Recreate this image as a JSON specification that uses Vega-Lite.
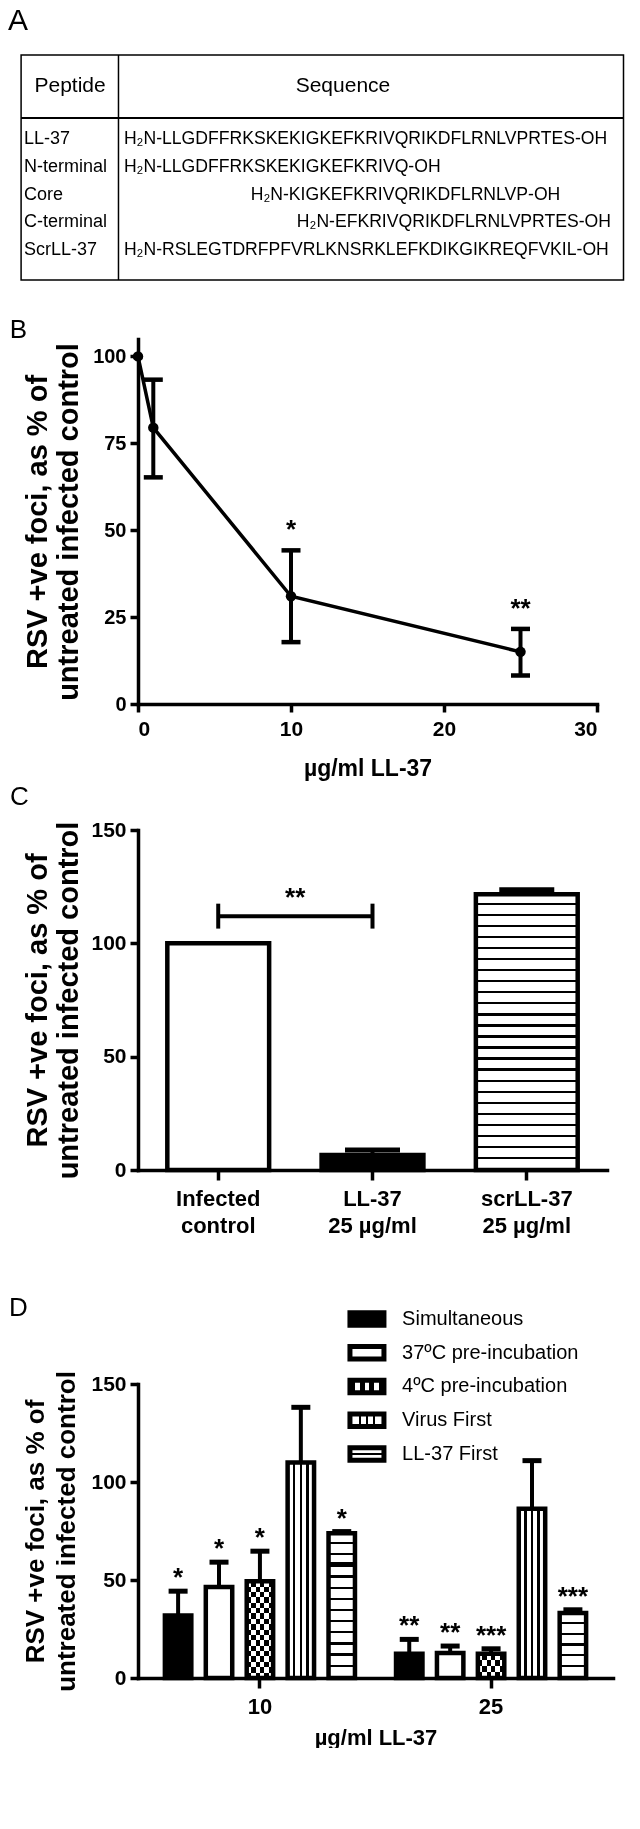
{
  "$schema": "https://vega.github.io/schema/vega-lite/v6.json",
  "background": "white",
  "padding": {"left": 8, "top": 6, "right": 0, "bottom": 0},
  "config": {
    "font": "Liberation Sans",
    "view": {"stroke": null},
    "axis": {"domainColor": "black", "domainWidth": 3.5, "domainCap": "square", "tickColor": "black", "tickWidth": 3.5, "tickSize": 8, "labelColor": "black", "labelFont": "Liberation Sans", "labelFontWeight": "bold", "labelFontSize": 21, "labelPadding": 4, "titleFont": "Liberation Sans", "titleFontWeight": "bold", "titleColor": "black", "grid": false},
    "title": {"font": "Liberation Sans", "fontWeight": "normal", "color": "black", "anchor": "start", "frame": "bounds"}
  },
  "columns": 1,
  "spacing": 58,
  "concat": [
    {
      "columns": 1,
      "spacing": 36,
      "concat": [
        {
          "title": {"text": "A", "fontSize": 30, "dx": -12, "offset": 18},
          "width": 485.5,
          "height": 225,
          "layer": [
            {
              "data": {"values": [
                {"row": 1, "peptide": "LL-37", "sequence": "H₂N-LLGDFFRKSKEKIGKEFKRIVQRIKDFLRNLVPRTES-OH", "start": 1},
                {"row": 2, "peptide": "N-terminal", "sequence": "H₂N-LLGDFFRKSKEKIGKEFKRIVQ-OH", "start": 1},
                {"row": 3, "peptide": "Core", "sequence": "H₂N-KIGKEFKRIVQRIKDFLRNLVP-OH", "start": 12},
                {"row": 4, "peptide": "C-terminal", "sequence": "H₂N-EFKRIVQRIKDFLRNLVPRTES-OH", "start": 16},
                {"row": 5, "peptide": "ScrLL-37", "sequence": "H₂N-RSLEGTDRFPFVRLKNSRKLEFKDIKGIKREQFVKIL-OH", "start": 1}
              ]},
              "layer": [
                {
                  "mark": {"type": "text", "align": "left", "baseline": "middle", "fontSize": 18, "color": "black"},
                  "encoding": {
                    "x": {"datum": -7.67, "type": "quantitative", "scale": {"domain": [2.223, 44.33], "nice": false, "zero": false}, "axis": null},
                    "y": {"field": "row", "type": "quantitative", "scale": {"domain": [-2.027, 6.081], "reverse": true, "nice": false, "zero": false}, "axis": null},
                    "text": {"field": "peptide"}
                  }
                },
                {
                  "mark": {"type": "text", "align": "left", "baseline": "middle", "fontSize": 17.6, "color": "black"},
                  "encoding": {
                    "x": {"field": "start", "type": "quantitative", "scale": {"domain": [2.223, 44.33], "nice": false, "zero": false}, "axis": null},
                    "y": {"field": "row", "type": "quantitative", "scale": {"domain": [-2.027, 6.081], "reverse": true, "nice": false, "zero": false}, "axis": null},
                    "text": {"field": "sequence"}
                  }
                }
              ]
            },
            {
              "data": {"values": [{"label": "Peptide"}]},
              "mark": {"type": "text", "align": "center", "baseline": "middle", "fontSize": 21, "color": "black"},
              "encoding": {
                "x": {"datum": -3.67, "type": "quantitative", "scale": {"domain": [2.223, 44.33], "nice": false, "zero": false}, "axis": null},
                "y": {"datum": -0.91, "type": "quantitative", "scale": {"domain": [-2.027, 6.081], "reverse": true, "nice": false, "zero": false}, "axis": null},
                "text": {"field": "label"}
              }
            },
            {
              "data": {"values": [{"label": "Sequence"}]},
              "mark": {"type": "text", "align": "center", "baseline": "middle", "fontSize": 21, "color": "black"},
              "encoding": {
                "x": {"datum": 20.0, "type": "quantitative", "scale": {"domain": [2.223, 44.33], "nice": false, "zero": false}, "axis": null},
                "y": {"datum": -0.91, "type": "quantitative", "scale": {"domain": [-2.027, 6.081], "reverse": true, "nice": false, "zero": false}, "axis": null},
                "text": {"field": "label"}
              }
            },
            {
              "data": {"values": [{"part": "border"}]},
              "mark": {"type": "rect", "filled": false, "stroke": "black", "strokeWidth": 1.5},
              "encoding": {
                "x": {"datum": -7.916, "type": "quantitative", "scale": {"domain": [2.223, 44.33], "nice": false, "zero": false}, "axis": null},
                "x2": {"datum": 44.33},
                "y": {"datum": -2.027, "type": "quantitative", "scale": {"domain": [-2.027, 6.081], "reverse": true, "nice": false, "zero": false}, "axis": null},
                "y2": {"datum": 6.081}
              }
            },
            {
              "data": {"values": [{"part": "header line"}]},
              "mark": {"type": "rule", "color": "black", "strokeWidth": 2},
              "encoding": {
                "x": {"datum": -7.916, "type": "quantitative", "scale": {"domain": [2.223, 44.33], "nice": false, "zero": false}, "axis": null},
                "x2": {"datum": 44.33},
                "y": {"datum": 0.243, "type": "quantitative", "scale": {"domain": [-2.027, 6.081], "reverse": true, "nice": false, "zero": false}, "axis": null}
              }
            },
            {
              "data": {"values": [{"part": "column line"}]},
              "mark": {"type": "rule", "color": "black", "strokeWidth": 1.5},
              "encoding": {
                "x": {"datum": 0.53, "type": "quantitative", "scale": {"domain": [2.223, 44.33], "nice": false, "zero": false}, "axis": null},
                "y": {"datum": -2.027, "type": "quantitative", "scale": {"domain": [-2.027, 6.081], "reverse": true, "nice": false, "zero": false}, "axis": null},
                "y2": {"datum": 6.081}
              }
            }
          ]
        },
        {
          "columns": 1,
          "spacing": 4,
          "concat": [
            {
              "title": {"text": "B", "fontSize": 26, "dx": -14, "offset": -4},
              "width": 459,
              "height": 365,
              "data": {"values": [
                {"dose": 0, "mean": 100},
                {"dose": 1, "mean": 79.5, "lower": 65.2, "upper": 93.3},
                {"dose": 10, "mean": 31, "lower": 17.8, "upper": 44.2, "sig": "*"},
                {"dose": 25, "mean": 15, "lower": 8.2, "upper": 21.6, "sig": "**"}
              ]},
              "encoding": {
                "x": {"field": "dose", "type": "quantitative", "scale": {"domain": [0, 30], "nice": false}, "axis": {"values": [0, 10, 20, 30], "title": "µg/ml LL-37", "titleFontSize": 23, "titlePadding": 18, "labelFontSize": 21, "labelPadding": 6}}
              },
              "layer": [
                {
                  "mark": {"type": "line", "color": "black", "strokeWidth": 3.5},
                  "encoding": {
                    "y": {"field": "mean", "type": "quantitative", "scale": {"domain": [0, 105], "nice": false}, "axis": {"values": [0, 25, 50, 75, 100], "title": ["RSV +ve foci, as % of", "untreated infected control"], "titleFontSize": 29, "titleLineHeight": 31, "titlePadding": 9, "labelFontSize": 20}}
                  }
                },
                {
                  "mark": {"type": "rule", "color": "black", "strokeWidth": 4},
                  "encoding": {"y": {"field": "lower", "type": "quantitative"}, "y2": {"field": "upper"}}
                },
                {
                  "mark": {"type": "tick", "orient": "horizontal", "color": "black", "size": 19, "thickness": 4.5, "opacity": 1},
                  "encoding": {"y": {"field": "lower", "type": "quantitative"}}
                },
                {
                  "mark": {"type": "tick", "orient": "horizontal", "color": "black", "size": 19, "thickness": 4.5, "opacity": 1},
                  "encoding": {"y": {"field": "upper", "type": "quantitative"}}
                },
                {
                  "mark": {"type": "point", "filled": true, "color": "black", "size": 110, "opacity": 1},
                  "encoding": {"y": {"field": "mean", "type": "quantitative"}}
                },
                {
                  "transform": [{"filter": "isValid(datum.sig)"}],
                  "mark": {"type": "text", "fontSize": 26, "fontWeight": "bold", "baseline": "alphabetic", "dy": -12, "color": "black"},
                  "encoding": {"y": {"field": "upper", "type": "quantitative"}, "text": {"field": "sig"}}
                }
              ]
            },
            {
              "title": {"text": "C", "fontSize": 26, "dx": -14, "offset": 9},
              "width": 469,
              "height": 340,
              "layer": [
                {
                  "data": {"values": [
                    {"group": "Infected control", "mean": 100},
                    {"group": "LL-37 25 µg/ml", "mean": 6.6, "upper": 8.8},
                    {"group": "scrLL-37 25 µg/ml", "mean": 121.7, "upper": 123.6}
                  ]},
                  "encoding": {
                    "x": {"field": "group", "type": "nominal", "scale": {"domain": ["Infected control", "LL-37 25 µg/ml", "scrLL-37 25 µg/ml"], "paddingInner": 0.34, "paddingOuter": 0.19}, "axis": {"title": null, "labelAngle": 0, "labelFontSize": 22, "labelLineHeight": 27, "labelPadding": 8, "tickSize": 10, "labelExpr": "[slice(datum.label, 0, indexof(datum.label, ' ')), slice(datum.label, indexof(datum.label, ' ') + 1)]"}}
                  },
                  "layer": [
                    {
                      "mark": {"type": "bar", "stroke": "black", "strokeWidth": 4.5},
                      "encoding": {
                        "y": {"field": "mean", "type": "quantitative", "scale": {"domain": [0, 150], "nice": false}, "axis": {"values": [0, 50, 100, 150], "title": ["RSV +ve foci, as % of", "untreated infected control"], "titleFontSize": 29, "titleLineHeight": 31, "titlePadding": 7, "labelFontSize": 21}},
                        "fill": {"condition": [
                          {"test": "datum.group == 'Infected control'", "value": "white"},
                          {"test": "datum.group == 'LL-37 25 µg/ml'", "value": "black"}
                        ], "value": {"gradient": "linear", "x1": 0, "y1": 0, "x2": 0, "y2": 1, "stops": [
                          {"offset": 0, "color": "white"}, {"offset": 0.032, "color": "white"}, {"offset": 0.032, "color": "black"}, {"offset": 0.04, "color": "black"},
                          {"offset": 0.04, "color": "white"}, {"offset": 0.072, "color": "white"}, {"offset": 0.072, "color": "black"}, {"offset": 0.08, "color": "black"},
                          {"offset": 0.08, "color": "white"}, {"offset": 0.112, "color": "white"}, {"offset": 0.112, "color": "black"}, {"offset": 0.12, "color": "black"},
                          {"offset": 0.12, "color": "white"}, {"offset": 0.152, "color": "white"}, {"offset": 0.152, "color": "black"}, {"offset": 0.16, "color": "black"},
                          {"offset": 0.16, "color": "white"}, {"offset": 0.192, "color": "white"}, {"offset": 0.192, "color": "black"}, {"offset": 0.2, "color": "black"},
                          {"offset": 0.2, "color": "white"}, {"offset": 0.232, "color": "white"}, {"offset": 0.232, "color": "black"}, {"offset": 0.24, "color": "black"},
                          {"offset": 0.24, "color": "white"}, {"offset": 0.272, "color": "white"}, {"offset": 0.272, "color": "black"}, {"offset": 0.28, "color": "black"},
                          {"offset": 0.28, "color": "white"}, {"offset": 0.312, "color": "white"}, {"offset": 0.312, "color": "black"}, {"offset": 0.32, "color": "black"},
                          {"offset": 0.32, "color": "white"}, {"offset": 0.352, "color": "white"}, {"offset": 0.352, "color": "black"}, {"offset": 0.36, "color": "black"},
                          {"offset": 0.36, "color": "white"}, {"offset": 0.392, "color": "white"}, {"offset": 0.392, "color": "black"}, {"offset": 0.4, "color": "black"},
                          {"offset": 0.4, "color": "white"}, {"offset": 0.432, "color": "white"}, {"offset": 0.432, "color": "black"}, {"offset": 0.44, "color": "black"},
                          {"offset": 0.44, "color": "white"}, {"offset": 0.472, "color": "white"}, {"offset": 0.472, "color": "black"}, {"offset": 0.48, "color": "black"},
                          {"offset": 0.48, "color": "white"}, {"offset": 0.512, "color": "white"}, {"offset": 0.512, "color": "black"}, {"offset": 0.52, "color": "black"},
                          {"offset": 0.52, "color": "white"}, {"offset": 0.552, "color": "white"}, {"offset": 0.552, "color": "black"}, {"offset": 0.56, "color": "black"},
                          {"offset": 0.56, "color": "white"}, {"offset": 0.592, "color": "white"}, {"offset": 0.592, "color": "black"}, {"offset": 0.6, "color": "black"},
                          {"offset": 0.6, "color": "white"}, {"offset": 0.632, "color": "white"}, {"offset": 0.632, "color": "black"}, {"offset": 0.64, "color": "black"},
                          {"offset": 0.64, "color": "white"}, {"offset": 0.672, "color": "white"}, {"offset": 0.672, "color": "black"}, {"offset": 0.68, "color": "black"},
                          {"offset": 0.68, "color": "white"}, {"offset": 0.712, "color": "white"}, {"offset": 0.712, "color": "black"}, {"offset": 0.72, "color": "black"},
                          {"offset": 0.72, "color": "white"}, {"offset": 0.752, "color": "white"}, {"offset": 0.752, "color": "black"}, {"offset": 0.76, "color": "black"},
                          {"offset": 0.76, "color": "white"}, {"offset": 0.792, "color": "white"}, {"offset": 0.792, "color": "black"}, {"offset": 0.8, "color": "black"},
                          {"offset": 0.8, "color": "white"}, {"offset": 0.832, "color": "white"}, {"offset": 0.832, "color": "black"}, {"offset": 0.84, "color": "black"},
                          {"offset": 0.84, "color": "white"}, {"offset": 0.872, "color": "white"}, {"offset": 0.872, "color": "black"}, {"offset": 0.88, "color": "black"},
                          {"offset": 0.88, "color": "white"}, {"offset": 0.912, "color": "white"}, {"offset": 0.912, "color": "black"}, {"offset": 0.92, "color": "black"},
                          {"offset": 0.92, "color": "white"}, {"offset": 0.952, "color": "white"}, {"offset": 0.952, "color": "black"}, {"offset": 0.96, "color": "black"},
                          {"offset": 0.96, "color": "white"}, {"offset": 0.992, "color": "white"}, {"offset": 0.992, "color": "black"}, {"offset": 1, "color": "black"}
                        ]}}
                      }
                    },
                    {
                      "mark": {"type": "rule", "color": "black", "strokeWidth": 4},
                      "encoding": {"y": {"field": "mean", "type": "quantitative"}, "y2": {"field": "upper"}}
                    },
                    {
                      "mark": {"type": "tick", "orient": "horizontal", "color": "black", "size": 55, "thickness": 5, "opacity": 1},
                      "encoding": {"y": {"field": "upper", "type": "quantitative"}}
                    }
                  ]
                },
                {
                  "data": {"values": [{"from": "Infected control", "to": "LL-37 25 µg/ml", "level": 112, "low": 106.5, "high": 117.5, "label": "**"}]},
                  "layer": [
                    {
                      "mark": {"type": "rule", "color": "black", "strokeWidth": 4},
                      "encoding": {
                        "x": {"field": "from", "type": "nominal", "bandPosition": 0.5, "scale": {"domain": ["Infected control", "LL-37 25 µg/ml", "scrLL-37 25 µg/ml"], "paddingInner": 0.34, "paddingOuter": 0.19}},
                        "x2": {"field": "to", "bandPosition": 0.5},
                        "y": {"field": "level", "type": "quantitative"}
                      }
                    },
                    {
                      "mark": {"type": "rule", "color": "black", "strokeWidth": 4},
                      "encoding": {
                        "x": {"field": "from", "type": "nominal", "bandPosition": 0.5, "scale": {"domain": ["Infected control", "LL-37 25 µg/ml", "scrLL-37 25 µg/ml"], "paddingInner": 0.34, "paddingOuter": 0.19}},
                        "y": {"field": "low", "type": "quantitative"},
                        "y2": {"field": "high"}
                      }
                    },
                    {
                      "mark": {"type": "rule", "color": "black", "strokeWidth": 4},
                      "encoding": {
                        "x": {"field": "to", "type": "nominal", "bandPosition": 0.5, "scale": {"domain": ["Infected control", "LL-37 25 µg/ml", "scrLL-37 25 µg/ml"], "paddingInner": 0.34, "paddingOuter": 0.19}},
                        "y": {"field": "low", "type": "quantitative"},
                        "y2": {"field": "high"}
                      }
                    },
                    {
                      "mark": {"type": "text", "fontSize": 26, "fontWeight": "bold", "baseline": "alphabetic", "dx": 77, "dy": -10, "color": "black"},
                      "encoding": {
                        "x": {"field": "from", "type": "nominal", "bandPosition": 0.5, "scale": {"domain": ["Infected control", "LL-37 25 µg/ml", "scrLL-37 25 µg/ml"], "paddingInner": 0.34, "paddingOuter": 0.19}},
                        "y": {"field": "level", "type": "quantitative"},
                        "text": {"field": "label"}
                      }
                    }
                  ]
                }
              ]
            }
          ]
        }
      ]
    },
    {
      "title": {"text": "D", "fontSize": 26, "dx": -14, "offset": -18},
      "width": 475,
      "height": 294,
      "resolve": {"scale": {"x": "independent", "y": "independent"}},
      "layer": [
        {
          "data": {"values": [
            {"dose": 10, "series": "Simultaneous", "mean": 31.9, "upper": 44.3, "sig": "*"},
            {"dose": 10, "series": "37ºC pre-incubation", "mean": 46.4, "upper": 59.1, "sig": "*"},
            {"dose": 10, "series": "4ºC pre-incubation", "mean": 49.4, "upper": 64.7, "sig": "*"},
            {"dose": 10, "series": "Virus First", "mean": 110, "upper": 138.1},
            {"dose": 10, "series": "LL-37 First", "mean": 73.9, "upper": 74.7, "sig": "*"},
            {"dose": 25, "series": "Simultaneous", "mean": 12.4, "upper": 19.7, "sig": "**"},
            {"dose": 25, "series": "37ºC pre-incubation", "mean": 12.7, "upper": 16.3, "sig": "**"},
            {"dose": 25, "series": "4ºC pre-incubation", "mean": 12.4, "upper": 14.9, "sig": "***"},
            {"dose": 25, "series": "Virus First", "mean": 86.3, "upper": 110.9},
            {"dose": 25, "series": "LL-37 First", "mean": 33.1, "upper": 34.8, "sig": "***"}
          ]},
          "encoding": {
            "x": {"field": "dose", "type": "nominal", "scale": {"paddingInner": 0.115, "paddingOuter": 0.085}, "axis": {"title": "µg/ml LL-37", "titleFontSize": 22, "titlePadding": 10, "labelAngle": 0, "labelFontSize": 22, "labelPadding": 8, "tickSize": 10}},
            "xOffset": {"field": "series", "type": "nominal", "scale": {"domain": ["Simultaneous", "37ºC pre-incubation", "4ºC pre-incubation", "Virus First", "LL-37 First"], "paddingInner": 0.354, "paddingOuter": 0.177}},
            "y": {"field": "mean", "type": "quantitative", "scale": {"domain": [0, 150], "nice": false}, "axis": {"values": [0, 50, 100, 150], "title": ["RSV +ve foci, as % of", "untreated infected control"], "titleFontSize": 26, "titleLineHeight": 31, "titlePadding": 11, "labelFontSize": 21}}
          },
          "layer": [
            {
              "mark": {"type": "bar", "strokeWidth": 0},
              "encoding": {
                "fill": {"condition": [
                  {"test": "datum.series == '37ºC pre-incubation'", "value": "white"},
                  {"test": "datum.series == '4ºC pre-incubation' && datum.dose == 10", "value": {"gradient": "linear", "x1": 0, "y1": 0, "x2": 0, "y2": 1, "stops": [
                    {"offset": 0, "color": "white"}, {"offset": 0.0556, "color": "white"}, {"offset": 0.0556, "color": "black"}, {"offset": 0.1111, "color": "black"},
                    {"offset": 0.1111, "color": "white"}, {"offset": 0.1667, "color": "white"}, {"offset": 0.1667, "color": "black"}, {"offset": 0.2222, "color": "black"},
                    {"offset": 0.2222, "color": "white"}, {"offset": 0.2778, "color": "white"}, {"offset": 0.2778, "color": "black"}, {"offset": 0.3333, "color": "black"},
                    {"offset": 0.3333, "color": "white"}, {"offset": 0.3889, "color": "white"}, {"offset": 0.3889, "color": "black"}, {"offset": 0.4444, "color": "black"},
                    {"offset": 0.4444, "color": "white"}, {"offset": 0.5, "color": "white"}, {"offset": 0.5, "color": "black"}, {"offset": 0.5556, "color": "black"},
                    {"offset": 0.5556, "color": "white"}, {"offset": 0.6111, "color": "white"}, {"offset": 0.6111, "color": "black"}, {"offset": 0.6667, "color": "black"},
                    {"offset": 0.6667, "color": "white"}, {"offset": 0.7222, "color": "white"}, {"offset": 0.7222, "color": "black"}, {"offset": 0.7778, "color": "black"},
                    {"offset": 0.7778, "color": "white"}, {"offset": 0.8333, "color": "white"}, {"offset": 0.8333, "color": "black"}, {"offset": 0.8889, "color": "black"},
                    {"offset": 0.8889, "color": "white"}, {"offset": 0.9444, "color": "white"}, {"offset": 0.9444, "color": "black"}, {"offset": 1, "color": "black"}
                  ]}},
                  {"test": "datum.series == '4ºC pre-incubation'", "value": {"gradient": "linear", "x1": 0, "y1": 0, "x2": 0, "y2": 1, "stops": [
                    {"offset": 0, "color": "white"}, {"offset": 0.25, "color": "white"}, {"offset": 0.25, "color": "black"}, {"offset": 0.5, "color": "black"},
                    {"offset": 0.5, "color": "white"}, {"offset": 0.75, "color": "white"}, {"offset": 0.75, "color": "black"}, {"offset": 1, "color": "black"}
                  ]}},
                  {"test": "datum.series == 'Virus First'", "value": {"gradient": "linear", "x1": 0, "y1": 0, "x2": 1, "y2": 0, "stops": [
                    {"offset": 0, "color": "white"}, {"offset": 0.203, "color": "white"}, {"offset": 0.203, "color": "black"}, {"offset": 0.297, "color": "black"},
                    {"offset": 0.297, "color": "white"}, {"offset": 0.453, "color": "white"}, {"offset": 0.453, "color": "black"}, {"offset": 0.547, "color": "black"},
                    {"offset": 0.547, "color": "white"}, {"offset": 0.703, "color": "white"}, {"offset": 0.703, "color": "black"}, {"offset": 0.797, "color": "black"},
                    {"offset": 0.797, "color": "white"}, {"offset": 1, "color": "white"}
                  ]}},
                  {"test": "datum.series == 'LL-37 First' && datum.dose == 10", "value": {"gradient": "linear", "x1": 0, "y1": 0, "x2": 0, "y2": 1, "stops": [
                    {"offset": 0, "color": "white"}, {"offset": 0.0615, "color": "white"}, {"offset": 0.0615, "color": "black"}, {"offset": 0.0769, "color": "black"},
                    {"offset": 0.0769, "color": "white"}, {"offset": 0.1385, "color": "white"}, {"offset": 0.1385, "color": "black"}, {"offset": 0.1538, "color": "black"},
                    {"offset": 0.1538, "color": "white"}, {"offset": 0.2, "color": "white"}, {"offset": 0.2, "color": "black"}, {"offset": 0.2308, "color": "black"},
                    {"offset": 0.2308, "color": "white"}, {"offset": 0.2923, "color": "white"}, {"offset": 0.2923, "color": "black"}, {"offset": 0.3077, "color": "black"},
                    {"offset": 0.3077, "color": "white"}, {"offset": 0.3692, "color": "white"}, {"offset": 0.3692, "color": "black"}, {"offset": 0.3846, "color": "black"},
                    {"offset": 0.3846, "color": "white"}, {"offset": 0.4462, "color": "white"}, {"offset": 0.4462, "color": "black"}, {"offset": 0.4615, "color": "black"},
                    {"offset": 0.4615, "color": "white"}, {"offset": 0.5231, "color": "white"}, {"offset": 0.5231, "color": "black"}, {"offset": 0.5385, "color": "black"},
                    {"offset": 0.5385, "color": "white"}, {"offset": 0.6, "color": "white"}, {"offset": 0.6, "color": "black"}, {"offset": 0.6154, "color": "black"},
                    {"offset": 0.6154, "color": "white"}, {"offset": 0.6769, "color": "white"}, {"offset": 0.6769, "color": "black"}, {"offset": 0.6923, "color": "black"},
                    {"offset": 0.6923, "color": "white"}, {"offset": 0.7538, "color": "white"}, {"offset": 0.7538, "color": "black"}, {"offset": 0.7692, "color": "black"},
                    {"offset": 0.7692, "color": "white"}, {"offset": 0.8308, "color": "white"}, {"offset": 0.8308, "color": "black"}, {"offset": 0.8462, "color": "black"},
                    {"offset": 0.8462, "color": "white"}, {"offset": 0.9077, "color": "white"}, {"offset": 0.9077, "color": "black"}, {"offset": 0.9231, "color": "black"},
                    {"offset": 0.9231, "color": "white"}, {"offset": 0.9846, "color": "white"}, {"offset": 0.9846, "color": "black"}, {"offset": 1, "color": "black"}
                  ]}},
                  {"test": "datum.series == 'LL-37 First'", "value": {"gradient": "linear", "x1": 0, "y1": 0, "x2": 0, "y2": 1, "stops": [
                    {"offset": 0, "color": "white"}, {"offset": 0.1333, "color": "white"}, {"offset": 0.1333, "color": "black"}, {"offset": 0.1667, "color": "black"},
                    {"offset": 0.1667, "color": "white"}, {"offset": 0.3, "color": "white"}, {"offset": 0.3, "color": "black"}, {"offset": 0.3333, "color": "black"},
                    {"offset": 0.3333, "color": "white"}, {"offset": 0.4667, "color": "white"}, {"offset": 0.4667, "color": "black"}, {"offset": 0.5, "color": "black"},
                    {"offset": 0.5, "color": "white"}, {"offset": 0.6333, "color": "white"}, {"offset": 0.6333, "color": "black"}, {"offset": 0.6667, "color": "black"},
                    {"offset": 0.6667, "color": "white"}, {"offset": 0.8, "color": "white"}, {"offset": 0.8, "color": "black"}, {"offset": 0.8333, "color": "black"},
                    {"offset": 0.8333, "color": "white"}, {"offset": 0.9667, "color": "white"}, {"offset": 0.9667, "color": "black"}, {"offset": 1, "color": "black"}
                  ]}}
                ], "value": "black"}
              }
            },
            {
              "transform": [{"filter": "datum.series == '4ºC pre-incubation'"}],
              "mark": {"type": "bar", "strokeWidth": 0, "blend": "difference", "fill": {"gradient": "linear", "x1": 0, "y1": 0, "x2": 1, "y2": 0, "stops": [
                {"offset": 0, "color": "black"}, {"offset": 0.1667, "color": "black"}, {"offset": 0.1667, "color": "white"}, {"offset": 0.3333, "color": "white"},
                {"offset": 0.3333, "color": "black"}, {"offset": 0.5, "color": "black"}, {"offset": 0.5, "color": "white"}, {"offset": 0.6667, "color": "white"},
                {"offset": 0.6667, "color": "black"}, {"offset": 0.8333, "color": "black"}, {"offset": 0.8333, "color": "white"}, {"offset": 1, "color": "white"}
              ]}}
            },
            {
              "mark": {"type": "bar", "filled": false, "stroke": "black", "strokeWidth": 4.5}
            },
            {
              "mark": {"type": "rule", "color": "black", "strokeWidth": 4},
              "encoding": {"y2": {"field": "upper"}}
            },
            {
              "mark": {"type": "tick", "orient": "horizontal", "color": "black", "size": 19, "thickness": 5, "opacity": 1},
              "encoding": {"y": {"field": "upper", "type": "quantitative"}}
            },
            {
              "transform": [{"filter": "isValid(datum.sig)"}],
              "mark": {"type": "text", "fontSize": 26, "fontWeight": "bold", "baseline": "alphabetic", "dy": -5, "color": "black"},
              "encoding": {"y": {"field": "upper", "type": "quantitative"}, "text": {"field": "sig"}}
            }
          ]
        },
        {
          "data": {"values": [
            {"series": "Simultaneous", "rank": 1},
            {"series": "37ºC pre-incubation", "rank": 2},
            {"series": "4ºC pre-incubation", "rank": 3},
            {"series": "Virus First", "rank": 4},
            {"series": "LL-37 First", "rank": 5}
          ]},
          "encoding": {
            "y": {"field": "rank", "type": "quantitative", "scale": {"domain": [2.926, 11.637], "reverse": true, "nice": false, "zero": false}, "axis": null}
          },
          "layer": [
            {
              "mark": {"type": "point", "shape": "M-1,-0.373H1V0.373H-1Z", "size": 1156, "filled": true, "stroke": "black", "strokeWidth": 5, "opacity": 1},
              "encoding": {
                "x": {"datum": 0.482, "type": "quantitative", "scale": {"domain": [0, 1], "nice": false, "zero": false}, "axis": null},
                "fill": {"condition": [
                  {"test": "datum.series == '37ºC pre-incubation'", "value": "white"},
                  {"test": "datum.series == '4ºC pre-incubation'", "value": {"gradient": "linear", "x1": 0, "y1": 0, "x2": 1, "y2": 0, "stops": [
                    {"offset": 0, "color": "black"}, {"offset": 0.143, "color": "black"}, {"offset": 0.143, "color": "white"}, {"offset": 0.286, "color": "white"},
                    {"offset": 0.286, "color": "black"}, {"offset": 0.429, "color": "black"}, {"offset": 0.429, "color": "white"}, {"offset": 0.571, "color": "white"},
                    {"offset": 0.571, "color": "black"}, {"offset": 0.714, "color": "black"}, {"offset": 0.714, "color": "white"}, {"offset": 0.857, "color": "white"},
                    {"offset": 0.857, "color": "black"}, {"offset": 1, "color": "black"}
                  ]}},
                  {"test": "datum.series == 'Virus First'", "value": {"gradient": "linear", "x1": 0, "y1": 0, "x2": 1, "y2": 0, "stops": [
                    {"offset": 0, "color": "white"}, {"offset": 0.265, "color": "white"}, {"offset": 0.265, "color": "black"}, {"offset": 0.335, "color": "black"},
                    {"offset": 0.335, "color": "white"}, {"offset": 0.465, "color": "white"}, {"offset": 0.465, "color": "black"}, {"offset": 0.535, "color": "black"},
                    {"offset": 0.535, "color": "white"}, {"offset": 0.665, "color": "white"}, {"offset": 0.665, "color": "black"}, {"offset": 0.735, "color": "black"},
                    {"offset": 0.735, "color": "white"}, {"offset": 1, "color": "white"}
                  ]}},
                  {"test": "datum.series == 'LL-37 First'", "value": {"gradient": "linear", "x1": 0, "y1": 0, "x2": 0, "y2": 1, "stops": [
                    {"offset": 0, "color": "white"}, {"offset": 0.44, "color": "white"}, {"offset": 0.44, "color": "black"}, {"offset": 0.56, "color": "black"},
                    {"offset": 0.56, "color": "white"}, {"offset": 1, "color": "white"}
                  ]}}
                ], "value": "black"}
              }
            },
            {
              "mark": {"type": "text", "align": "left", "baseline": "middle", "fontSize": 20, "color": "black"},
              "encoding": {
                "x": {"datum": 0.556, "type": "quantitative", "scale": {"domain": [0, 1], "nice": false, "zero": false}, "axis": null},
                "text": {"field": "series"}
              }
            }
          ]
        }
      ]
    }
  ]
}
